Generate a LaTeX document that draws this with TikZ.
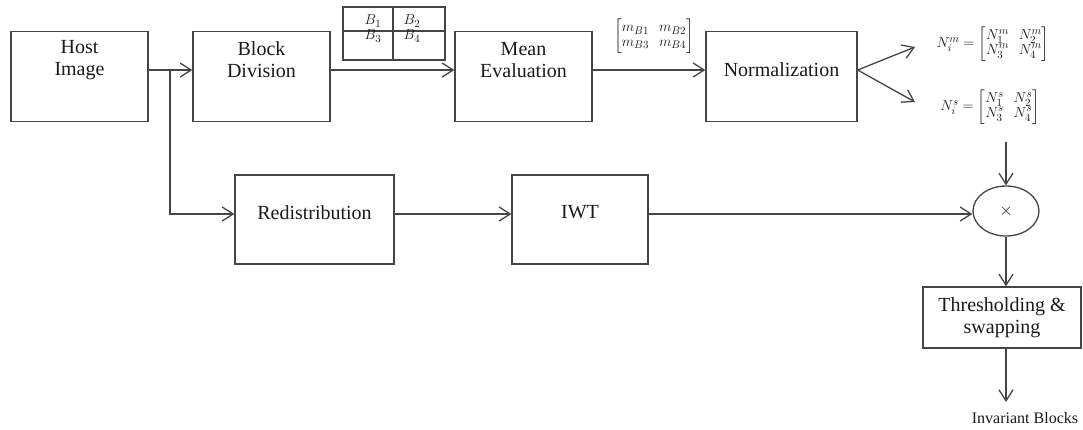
\documentclass[tikz,border=0pt]{standalone}
\usepackage{amsmath}
\usepackage{fontspec}
\setmainfont{Liberation Serif}
\usetikzlibrary{arrows.meta,shapes.geometric}
\definecolor{ln}{HTML}{454545}
\definecolor{tx}{HTML}{1A1A1A}
\begin{document}
\begin{tikzpicture}[x=1pt,y=-1pt,
  every node/.style={text=tx},
  txt/.style={font=\fontsize{20}{22}\selectfont, align=center},
  mth/.style={font=\fontsize{15}{16}\selectfont, inner sep=0pt},
  boxA/.style={draw=ln, line width=1.3pt, minimum width=137pt, minimum height=90pt, inner sep=0pt},
  arr/.style={draw=ln, line width=1.3pt, -{Straight Barb[length=11pt,width=14pt,line width=1.3pt]}},
  ln/.style={draw=ln, line width=1.3pt}]
\useasboundingbox (0,0) rectangle (1083,429);
\fill[white] (0,0) rectangle (1083,429);

% top row boxes
\node[boxA] (host) at (79.5,76.5) {};
\node[txt] at (79.5,60) {Host\\Image};
\node[boxA] (block) at (261.5,76.5) {};
\node[txt] at (261.5,60) {Block\\Division};
\node[boxA] (mean) at (523.5,76.5) {};
\node[txt] at (523.5,60) {Mean\\Evaluation};
\node[boxA, minimum width=151pt] (norm) at (781.5,76.5) {};
\node[txt] at (781.5,70) {Normalization};

% lower row boxes
\node[boxA, minimum width=159pt, minimum height=89pt] (redis) at (314.5,219.5) {};
\node[txt] at (314.5,212.5) {Redistribution};
\node[boxA, minimum width=136pt, minimum height=89pt] (iwt) at (580,219.5) {};
\node[txt] at (580,212.5) {IWT};

% multiplier and thresholding
\node[draw=ln, line width=1.3pt, ellipse, minimum width=66pt, minimum height=50pt, inner sep=0pt, font=\fontsize{16}{18}\selectfont] (ell) at (1006,211) {$\times$};
\node[boxA, minimum width=158pt, minimum height=61pt, txt] (thr) at (1002,317.5) {Thresholding \&\\swapping};
\node[font=\fontsize{16}{18}\selectfont] (inv) at (1025,418) {Invariant Blocks};

% block table
\draw[ln] (343,7) rectangle (445,60);
\draw[ln] (393,7) -- (393,60);
\draw[ln] (343,31) -- (445,31);
\node[mth] (b1) at (373,21) {$B_1$};
\node[mth] (b2) at (412,21) {$B_2$};
\node[mth] (b3) at (373,36) {$B_3$};
\node[mth] (b4) at (412,36) {$B_4$};

% matrices
\def\arraystretch{0.9}
\node[mth] (mm) at (654,36) {$\left[\begin{matrix}m_{B1} & m_{B2}\\ m_{B3} & m_{B4}\end{matrix}\right]$};
\node[mth] (Nm) at (993,44) {$N_i^m=\left[\begin{matrix}N_1^m & N_2^m\\ N_3^m & N_4^m\end{matrix}\right]$};
\node[mth] (Ns) at (990,107) {$N_i^s=\left[\begin{matrix}N_1^s & N_2^s\\ N_3^s & N_4^s\end{matrix}\right]$};

% connectors
\coordinate (split) at (170,70);
\coordinate (tm) at (915,47);
\coordinate (ts) at (915,102);
\coordinate (nsb) at (1006,142);
\coordinate (invtip) at (1006,402);

\draw[arr] ([yshift=6.5pt]host.east) -- ([yshift=6.5pt]block.west);
\draw[arr] (split) |- ([yshift=5.5pt]redis.west);
\draw[arr] ([yshift=6.5pt]block.east) -- ([yshift=6.5pt]mean.west);
\draw[arr] ([yshift=6.5pt]mean.east) -- ([yshift=6.5pt]norm.west);
\draw[arr] ([yshift=6.5pt]norm.east) -- (tm);
\draw[arr] ([yshift=6.5pt]norm.east) -- (ts);
\draw[arr] ([yshift=5.5pt]redis.east) -- ([yshift=5.5pt]iwt.west);
\draw[arr] ([yshift=5.5pt]iwt.east) -- ([yshift=5.5pt]iwt.east -| ell.west);
\draw[arr] (nsb) -- (ell.north);
\draw[arr] (ell.south) -- (ell.south |- thr.north);
\draw[arr] (ell.south |- thr.south) -- (invtip);
\end{tikzpicture}
\end{document}
